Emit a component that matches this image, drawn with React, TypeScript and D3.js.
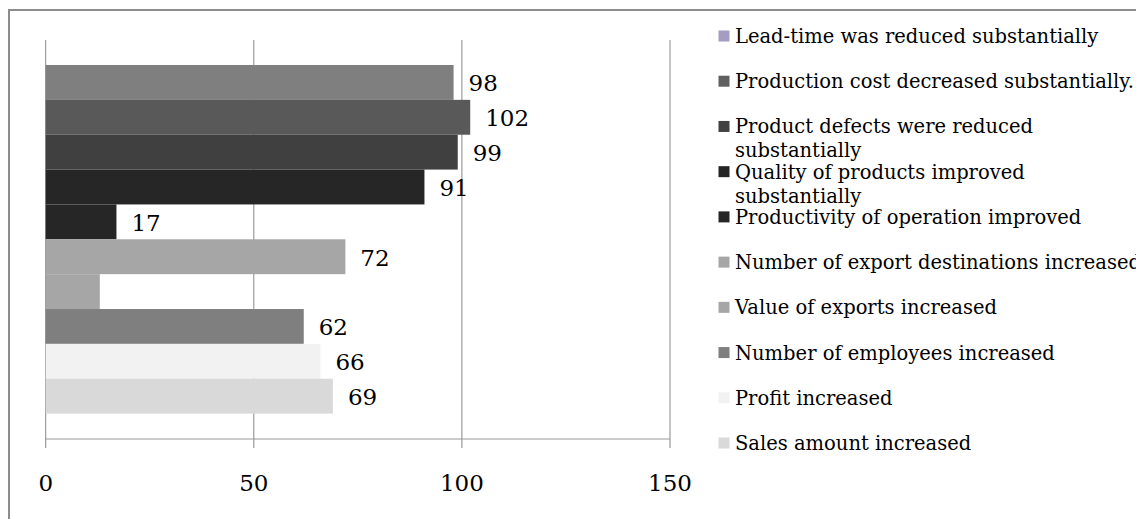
import * as d3 from 'd3'

// series in legend order (top to bottom)
const seriesNames = [
  'Lead-time was reduced substantially',
  'Production cost decreased substantially.',
  'Product defects were reduced\nsubstantially',
  'Quality of products improved\nsubstantially',
  'Productivity of operation improved',
  'Number of export destinations increased',
  'Value of exports increased',
  'Number of employees increased',
  'Profit increased',
  'Sales amount increased',
]
const values = [98, 102, 99, 91, 17, 72, 13, 62, 66, 69]
// the "Value of exports" bar carries no label in the original
const dataLabels = ['98', '102', '99', '91', '17', '72', null, '62', '66', '69']
const barColors = ['#7f7f7f', '#595959', '#404040', '#262626', '#262626', '#a6a6a6', '#a6a6a6', '#7f7f7f', '#f2f2f2', '#d9d9d9']
const legendColors = ['#a59cc4', '#606060', '#404040', '#262626', '#262626', '#a6a6a6', '#a6a6a6', '#7f7f7f', '#f2f2f2', '#d9d9d9']
const xTicks = [0, 50, 100, 150]

const W = 1136
const H = 519
const FONT = '"DejaVu Serif", serif'

const App = () => {
  const x = d3.scaleLinear().domain([0, 150]).range([45.7, 670])
  const y = d3.scaleBand<string>().domain(seriesNames).range([65, 413.6]).padding(0)
  const legendY = d3.scalePoint<string>().domain(seriesNames).range([36, 443])
  const plotTop = 40
  const plotBottom = 439

  return (
    <svg
      width={W}
      height={H}
      style={{ position: 'absolute', left: 0, top: 0, background: '#fff' }}
      fontFamily={FONT}
    >
      {/* chart frame, cut off on the right and bottom */}
      <rect x={9} y={10} width={W + 20} height={H + 20} fill="#fff" stroke="#8c8c8c" strokeWidth={2} />

      {/* gridlines */}
      {xTicks.map(t => (
        <line key={'g' + t} x1={x(t)} x2={x(t)} y1={plotTop} y2={plotBottom} stroke="#888" strokeWidth={1} />
      ))}

      {/* bars */}
      {seriesNames.map((name, i) => (
        <rect
          key={name}
          x={x(0)}
          y={y(name)}
          width={x(values[i]) - x(0)}
          height={y.bandwidth()}
          fill={barColors[i]}
        />
      ))}

      {/* data labels */}
      {seriesNames.map((name, i) =>
        dataLabels[i] == null ? null : (
          <text
            key={'l' + name}
            x={x(values[i]) + 15}
            y={(y(name) ?? 0) + y.bandwidth() / 2 + 9}
            fontSize={23}
            fill="#000"
          >
            {dataLabels[i]}
          </text>
        )
      )}

      {/* x axis */}
      <line x1={x(0)} x2={x(150)} y1={plotBottom} y2={plotBottom} stroke="#999" strokeWidth={1.2} />
      {xTicks.map(t => (
        <g key={'t' + t} transform={`translate(${x(t)},0)`}>
          <line y1={plotBottom} y2={plotBottom + 9} stroke="#999" strokeWidth={1.2} />
          <text y={491} textAnchor="middle" fontSize={23} fill="#000">
            {t}
          </text>
        </g>
      ))}

      {/* legend */}
      {seriesNames.map((name, i) => {
        const cy = legendY(name) ?? 0
        return (
          <g key={'lg' + name}>
            <rect x={718.5} y={cy - 5.5} width={11} height={11} fill={legendColors[i]} />
            <text x={735} y={cy + 7} fontSize={19.5} fill="#000">
              {name.split('\n').map((line, k) => (
                <tspan key={k} x={735} dy={k === 0 ? 0 : 24}>
                  {line}
                </tspan>
              ))}
            </text>
          </g>
        )
      })}
    </svg>
  )
}

export default App
